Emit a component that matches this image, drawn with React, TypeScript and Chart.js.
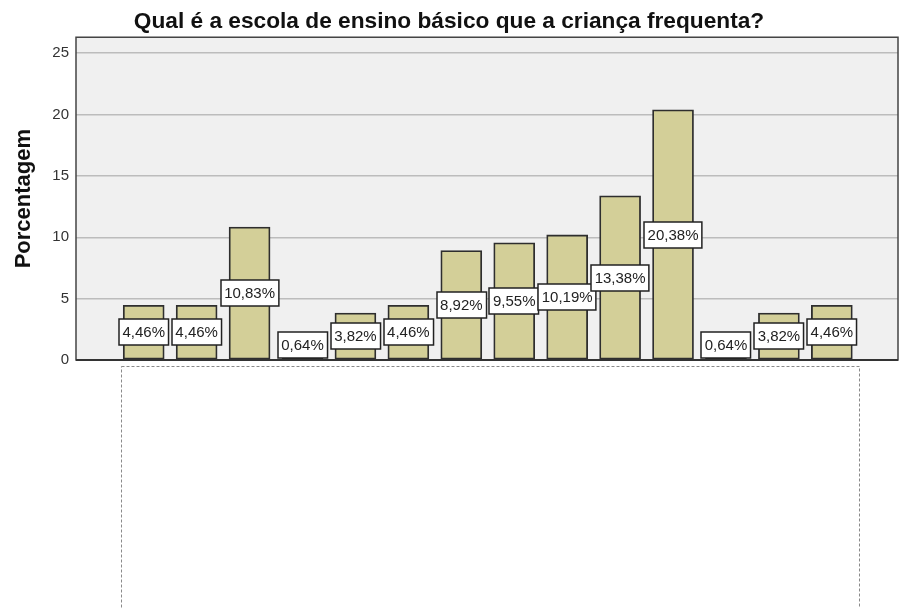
import React, { useEffect, useRef } from "react";
import { Chart, registerables } from "chart.js";

Chart.register(...registerables);

const chartTitle = "Qual é a escola de ensino básico que a criança frequenta?";
const yAxisTitle = "Porcentagem";
const categories = ["1", "2", "3", "4", "5", "6", "7", "8", "9", "10", "11", "12", "13", "14"];
const percentages = [4.46, 4.46, 10.83, 0.64, 3.82, 4.46, 8.92, 9.55, 10.19, 13.38, 20.38, 0.64, 3.82, 4.46];
const yTickValues = [0, 5, 10, 15, 20, 25];

const FONT = '"Liberation Sans", Arial, Helvetica, sans-serif';

function formatPct(v: number): string {
  return v.toFixed(2).replace(".", ",") + "%";
}

export default function App() {
  const ref = useRef<HTMLCanvasElement | null>(null);

  useEffect(() => {
    document.body.style.margin = "0";
    const canvas = ref.current;
    if (!canvas) return;

    const plotBg = {
      id: "plotBg",
      beforeDraw(chart: any) {
        const { ctx, chartArea: a } = chart;
        ctx.save();
        ctx.fillStyle = "#f0f0f0";
        ctx.fillRect(a.left, a.top, a.right - a.left, a.bottom - a.top);
        ctx.restore();
      },
    };

    const overlay = {
      id: "overlay",
      afterDatasetsDraw(chart: any) {
        const { ctx, chartArea: a } = chart;
        ctx.save();
        // frame
        ctx.strokeStyle = "#444444";
        ctx.lineWidth = 1.5;
        ctx.strokeRect(a.left, a.top, a.right - a.left, a.bottom - a.top);
        ctx.beginPath();
        ctx.strokeStyle = "#333333";
        ctx.lineWidth = 2;
        ctx.moveTo(a.left, a.bottom);
        ctx.lineTo(a.right, a.bottom);
        ctx.stroke();

        // value labels
        const meta = chart.getDatasetMeta(0);
        ctx.font = `15px ${FONT}`;
        ctx.textAlign = "center";
        ctx.textBaseline = "middle";
        meta.data.forEach((el: any, i: number) => {
          const v = percentages[i];
          const text = formatPct(v);
          const w = ctx.measureText(text).width + 7;
          const h = 26;
          const mid = (el.y + el.base) / 2;
          const cy = Math.min(mid, el.base - h / 2 - 1);
          const x0 = Math.round(el.x - w / 2);
          const y0 = Math.round(cy - h / 2);
          ctx.fillStyle = "#ffffff";
          ctx.fillRect(x0, y0, w, h);
          ctx.strokeStyle = "#222222";
          ctx.lineWidth = 1.5;
          ctx.strokeRect(x0, y0, w, h);
          ctx.fillStyle = "#222222";
          ctx.fillText(text, el.x, cy + 1);
        });

        // dashed box below the axis
        ctx.setLineDash([3, 2]);
        ctx.strokeStyle = "#8a8a8a";
        ctx.lineWidth = 1;
        ctx.strokeRect(a.left + 45.5, a.bottom + 6.5, 738, 260);
        ctx.restore();
      },
    };

    const chart = new Chart(canvas, {
      type: "bar",
      data: {
        labels: categories,
        datasets: [
          {
            data: percentages.map((v, i) => ({ x: i, y: v })),
            backgroundColor: "#d3cf98",
            borderColor: "#2e2e2e",
            borderWidth: 1.8,
            borderSkipped: false,
            barThickness: 41,
          },
        ],
      },
      options: {
        animation: false,
        responsive: false,
        devicePixelRatio: 1,
        layout: { padding: { top: 0, left: 0, right: 3, bottom: 248 } },
        plugins: {
          legend: { display: false },
          tooltip: { enabled: false },
          title: {
            display: true,
            text: chartTitle,
            color: "#111111",
            font: { family: FONT, size: 22.7, weight: "bold" },
            padding: { top: 8, bottom: 2 },
          },
        },
        scales: {
          x: {
            type: "linear",
            display: false,
            min: -1.279,
            max: 14.25,
            offset: false,
          },
          y: {
            min: 0,
            max: 26.3,
            grid: { color: "#bcbcbc", lineWidth: 1.5, drawTicks: false },
            border: { display: false },
            ticks: {
              stepSize: 5,
              includeBounds: false,
              padding: 7,
              color: "#333333",
              font: { family: FONT, size: 15 },
              callback: (v: any) => (yTickValues.includes(Number(v)) ? String(v) : ""),
            },
            title: {
              display: true,
              text: yAxisTitle,
              color: "#111111",
              font: { family: FONT, size: 22, weight: "bold" },
              padding: { top: 11, bottom: 0 },
            },
            afterFit: (s: any) => {
              s.width = 76;
              s.paddingTop = 0;
              s.paddingBottom = 0;
            },
          },
        },
      },
      plugins: [plotBg, overlay],
    } as any);

    return () => chart.destroy();
  }, []);

  return (
    <div style={{ width: 901, height: 608, position: "relative" }}>
      <canvas ref={ref} width={901} height={608} />
    </div>
  );
}
